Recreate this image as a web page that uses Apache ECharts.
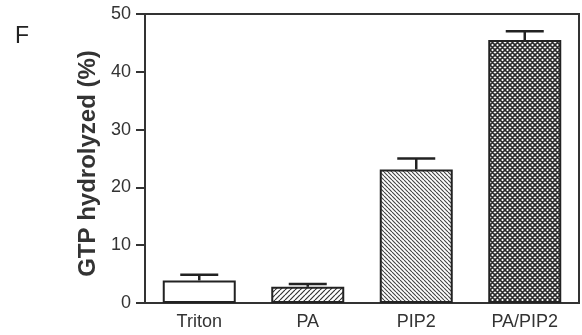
<!DOCTYPE html>
<html>
<head>
<meta charset="utf-8">
<script src="https://cdn.jsdelivr.net/npm/echarts@6/dist/echarts.min.js"></script>
<style>
html,body{margin:0;padding:0;background:#fff;}
#chart{width:582px;height:335px;}
</style>
</head>
<body>
<div id="chart"></div>
<script>
const categories = ['Triton', 'PA', 'PIP2', 'PA/PIP2'];
const values = [3.9, 2.8, 23.1, 45.5];
const errorTops = [4.9, 3.3, 25.0, 47.0];
const yTicks = [0, 10, 20, 30, 40, 50];
const panelLabel = 'F';
const yTitle = 'GTP hydrolyzed (%)';

function hatch(dir, period, lw, color) {
  const c = document.createElement('canvas');
  c.width = period; c.height = period;
  const g = c.getContext('2d');
  g.fillStyle = '#fff'; g.fillRect(0, 0, period, period);
  g.strokeStyle = color; g.lineWidth = lw;
  g.beginPath();
  if (dir === '/') {
    for (let k = -1; k <= 1; k++) {
      g.moveTo(k * period, period); g.lineTo(k * period + period, 0);
    }
  } else {
    for (let k = -1; k <= 1; k++) {
      g.moveTo(k * period, 0); g.lineTo(k * period + period, period);
    }
  }
  g.stroke();
  return c;
}
function cross(period, lw, color) {
  const c = document.createElement('canvas');
  c.width = period; c.height = period;
  const g = c.getContext('2d');
  g.fillStyle = '#fff'; g.fillRect(0, 0, period, period);
  g.strokeStyle = color; g.lineWidth = lw;
  g.beginPath();
  for (let k = -1; k <= 1; k++) {
    g.moveTo(k * period, period); g.lineTo(k * period + period, 0);
    g.moveTo(k * period, 0); g.lineTo(k * period + period, period);
  }
  g.stroke();
  return c;
}

const fills = [
  '#ffffff',
  { image: hatch('/', 5, 1.2, '#333'), repeat: 'repeat' },
  { image: hatch('\\', 4, 1.1, '#444'), repeat: 'repeat' },
  { image: cross(5, 1.6, '#2a2a2a'), repeat: 'repeat' }
];

const chart = echarts.init(document.getElementById('chart'), null, { renderer: 'canvas' });
const font = 'Liberation Sans, Arial, sans-serif';
chart.setOption({
  animation: false,
  backgroundColor: '#fff',
  title: {
    text: panelLabel, left: 10, top: 20,
    textStyle: { fontFamily: font, fontSize: 23, fontWeight: 'normal', color: '#222' }
  },
  grid: {
    left: 145, right: 3, top: 14, bottom: 32,
    show: true, borderColor: '#333', borderWidth: 2, backgroundColor: 'transparent'
  },
  xAxis: {
    type: 'category', data: categories,
    axisLine: { lineStyle: { color: '#333', width: 2 } },
    axisTick: { show: false },
    axisLabel: { color: '#333', fontFamily: font, fontSize: 18, margin: 10 }
  },
  yAxis: {
    type: 'value', min: yTicks[0], max: yTicks[yTicks.length - 1], interval: 10,
    name: yTitle, nameLocation: 'middle', nameGap: 45,
    nameTextStyle: { fontFamily: font, fontSize: 24, fontWeight: 'bold', color: '#333', padding: [0, 10, 0, 0] },
    axisLine: { show: true, lineStyle: { color: '#333', width: 2 } },
    axisTick: { show: true, length: 9, lineStyle: { color: '#333', width: 2 } },
    axisLabel: { color: '#333', fontFamily: font, fontSize: 18, margin: 14 },
    splitLine: { show: false }
  },
  series: [
    {
      type: 'bar', barWidth: 73,
      data: values.map((v, i) => ({
        value: v,
        itemStyle: { color: fills[i], borderColor: '#222', borderWidth: 2 }
      })),
      z: 3
    },
    {
      type: 'custom', z: 4,
      data: values.map((v, i) => [i, v, errorTops[i]]),
      renderItem: function (params, api) {
        const x = api.value(0);
        const p0 = api.coord([x, api.value(1)]);
        const p1 = api.coord([x, api.value(2)]);
        const half = 19;
        const st = { stroke: '#222', lineWidth: 2.5 };
        return {
          type: 'group',
          children: [
            { type: 'line', shape: { x1: p0[0], y1: p0[1], x2: p1[0], y2: p1[1] }, style: st },
            { type: 'line', shape: { x1: p1[0] - half, y1: p1[1], x2: p1[0] + half, y2: p1[1] }, style: st }
          ]
        };
      }
    }
  ]
});
</script>
</body>
</html>
